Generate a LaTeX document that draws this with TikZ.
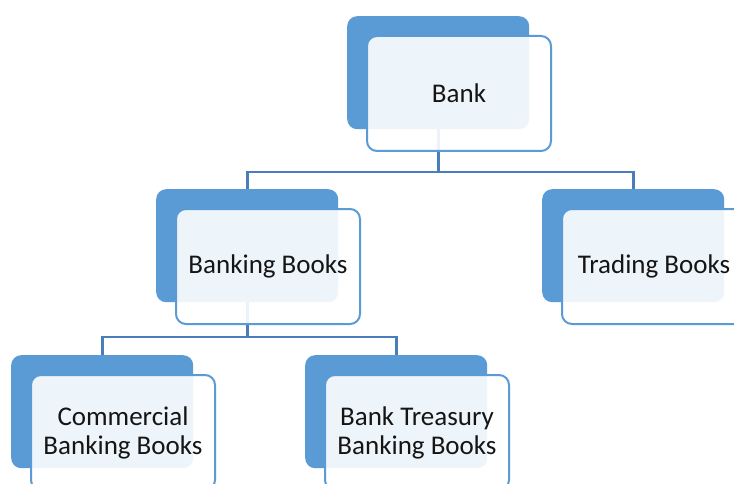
\documentclass[tikz,border=0pt]{standalone}
\usepackage{fontspec}
\setmainfont{Carlito}
\usetikzlibrary{backgrounds}
\definecolor{backblue}{HTML}{5B9BD5}
\definecolor{edgeblue}{HTML}{5B9BD5}
\definecolor{connblue}{HTML}{4A7EBB}
\definecolor{txt}{HTML}{151515}
\tikzset{
  backbox/.style={rectangle, rounded corners=10pt, fill=backblue, draw=none,
    minimum width=182pt, minimum height=113pt, inner sep=0pt, anchor=north west},
  frontbox/.style={rectangle, rounded corners=10pt, fill=white, fill opacity=0.9,
    text opacity=1, draw=edgeblue, draw opacity=1, line width=2pt, minimum width=184pt,
    minimum height=115pt, inner sep=0pt, anchor=north west, align=center,
    text=txt, font=\fontsize{27pt}{29pt}\selectfont},
  conn/.style={draw=connblue, line width=2.8pt}
}
\begin{document}
\begin{tikzpicture}[x=1pt,y=-1pt]
\useasboundingbox (0,0) rectangle (734,484);
\clip (0,0) rectangle (734,484);
% back boxes
\node[backbox] (bankB) at (347,16) {};
\node[backbox] (bbB) at (156,189) {};
\node[backbox] (tbB) at (542,189) {};
\node[backbox] (cbB) at (11,355) {};
\node[backbox] (ttB) at (305,355) {};
% front boxes
\node[frontbox] (bank) at (366,35) {Bank};
\node[frontbox] (bb) at (175,208) {Banking Books};
\node[frontbox] (tb) at (561,208) {Trading Books};
\node[frontbox] (cb) at (30,374) {Commercial\\Banking Books};
\node[frontbox] (tt) at (324,374) {Bank Treasury\\Banking Books};
\coordinate (j1) at (0,172);
\coordinate (j2) at (0,337);
% connectors behind
\begin{scope}[on background layer]
\fill[white] (0,0) rectangle (734,484);
\draw[conn] (bankB.center) -- (bankB.center |- j1) -| (bbB.center);
\draw[conn] (bankB.center |- j1) -| (tbB.center);
\draw[conn] (bbB.center) -- (bbB.center |- j2) -| (cbB.center);
\draw[conn] (bbB.center |- j2) -| (ttB.center);
\end{scope}
\end{tikzpicture}
\end{document}
